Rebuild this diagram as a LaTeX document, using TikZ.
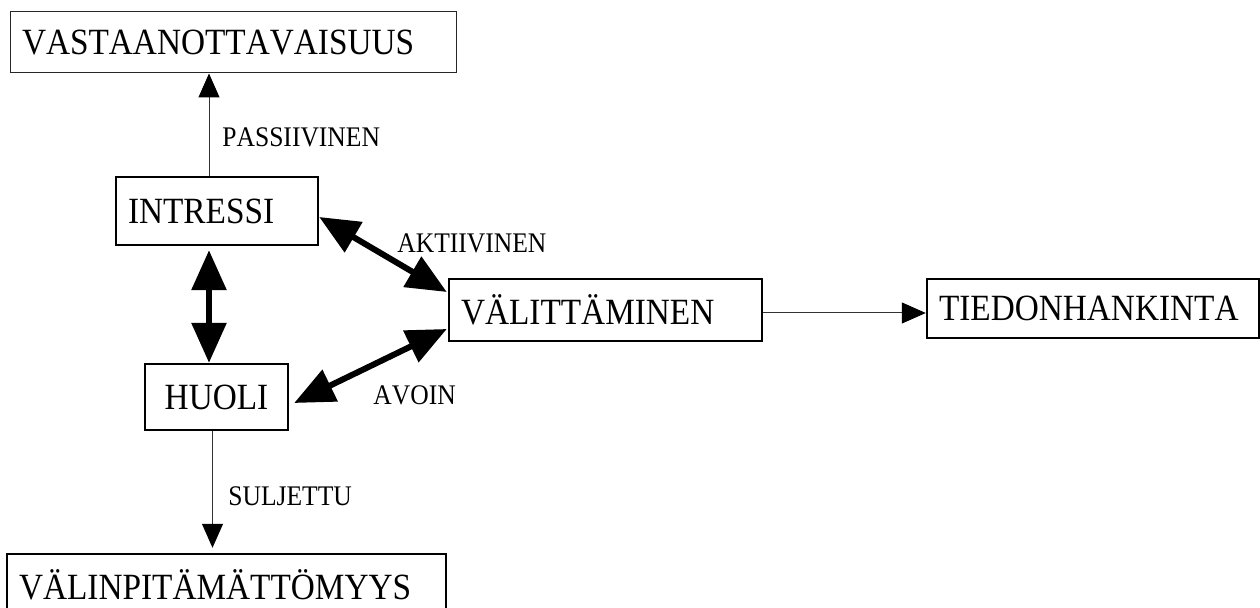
\documentclass[tikz,border=0pt]{standalone}
\usepackage{fontspec}
\setmainfont{Liberation Serif}
\newfontfamily\boxfont{Liberation Serif}[FakeStretch=0.9, Kerning=Off]
\usetikzlibrary{positioning,arrows.meta}

\begin{document}
\begin{tikzpicture}[
    x=0.5pt, y=-0.5pt,
    box/.style={draw, line width=1.2pt, inner xsep=6pt, inner ysep=0pt, align=left,
                font=\boxfont\fontsize{18.5}{20}\selectfont},
    thinbox/.style={box, line width=0.5pt, draw=black!85},
    pline/.style={-{Triangle[length=12pt,width=10.5pt,color=black]}, line width=0.5pt, draw=black!80},
    fatline/.style={{Triangle[length=20pt,width=17pt]}-{Triangle[length=20pt,width=17pt]}, line width=3pt},
    lbl/.style={font=\boxfont\fontsize{14.2}{16}\selectfont, inner sep=0pt}
  ]
  \path[use as bounding box, clip] (0,0) rectangle (1260,608);

  \node[thinbox, minimum width=223pt, minimum height=30.5pt, text width=211pt] (vast)    at (233,42.5)   {VASTAANOTTAVAISUUS};
  \node[box, minimum width=101pt, minimum height=34pt, text width=89pt]         (intressi) at (217,211)   {INTRESSI};
  \node[box, minimum width=71.5pt, minimum height=33pt, text width=59.5pt, align=center] (huoli) at (216.5,397) {HUOLI};
  \node[box, minimum width=156.5pt, minimum height=31pt, text width=144.5pt]    (valitt)  at (605.5,310)  {VÄLITTÄMINEN};
  \node[box, minimum width=166pt, minimum height=29.5pt, text width=154pt]      (tiedon)  at (1093,308.5) {TIEDONHANKINTA};
  \node[box, minimum width=219.5pt, minimum height=30.5pt, text width=207.5pt]  (valin)   at (226.5,584.5) {VÄLINPITÄMÄTTÖMYYS};

  % yhteydet
  \draw[pline] ([xshift=-4pt]intressi.north) -- ([xshift=-4pt]intressi.north |- vast.south);
  \draw[fatline] ([xshift=-4pt,yshift=-2pt]intressi.south) -- ([xshift=-4pt]intressi.south |- huoli.north);
  \draw[fatline] ([yshift=-3pt]intressi.east) -- ([xshift=-0.5pt,yshift=9pt]valitt.west);
  \draw[fatline] ([xshift=-0.5pt,yshift=-9.5pt]valitt.west) -- ([xshift=2.5pt,yshift=-3pt]huoli.east);
  \draw[pline] ([yshift=-1.5pt]valitt.east) -- ([yshift=-1.5pt]valitt.east -| tiedon.west);
  \draw[pline] ([xshift=-2pt]huoli.south) -- ([xshift=-2pt,yshift=2.5pt]huoli.south |- valin.north);

  \node[lbl, anchor=base west] (passlbl) at (222,147) {PASSIIVINEN};
  \node[lbl, anchor=base west] (aktlbl)  at (397,253) {AKTIIVINEN};
  \node[lbl, anchor=base west] (avolbl)  at (373,405) {AVOIN};
  \node[lbl, anchor=base west] (sullbl)  at (228,506) {SULJETTU};
\end{tikzpicture}
\end{document}
